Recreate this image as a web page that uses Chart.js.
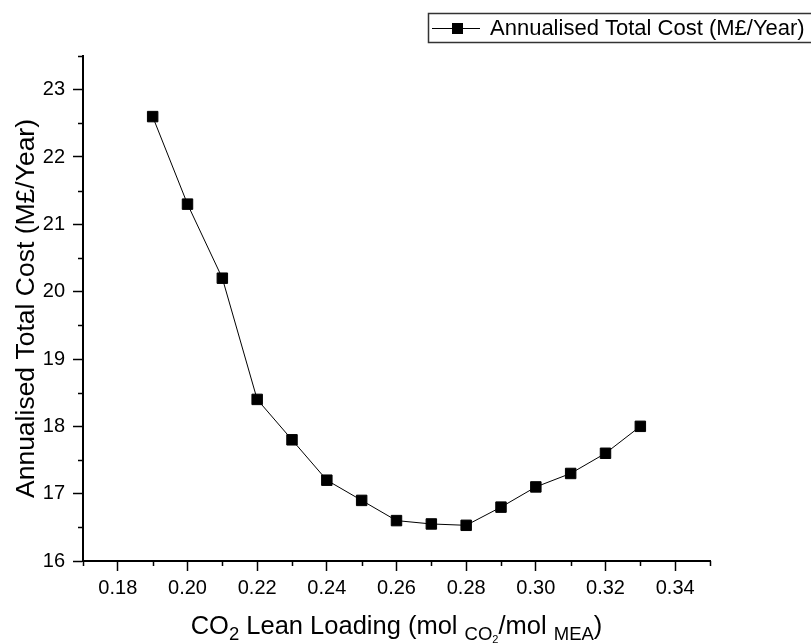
<!DOCTYPE html>
<html>
<head>
<meta charset="utf-8">
<script src="https://cdn.jsdelivr.net/npm/chart.js@4.4.1/dist/chart.umd.min.js"></script>
<style>
    html, body { margin: 0; padding: 0; background: #fff; }
    #chart { display: block; }
</style>
</head>
<body>
<canvas id="chart" width="811" height="644"></canvas>
<script>
const leanLoading = [0.19, 0.20, 0.21, 0.22, 0.23, 0.24, 0.25, 0.26, 0.27, 0.28, 0.29, 0.30, 0.31, 0.32, 0.33];
const annualisedCost = [22.6, 21.3, 20.2, 18.4, 17.8, 17.2, 16.9, 16.6, 16.55, 16.53, 16.8, 17.1, 17.3, 17.6, 18.0];

const xMajorTicks = [0.18, 0.20, 0.22, 0.24, 0.26, 0.28, 0.30, 0.32, 0.34];
const xMinorTicks = [0.17, 0.19, 0.21, 0.23, 0.25, 0.27, 0.29, 0.31, 0.33, 0.35];
const yMajorTicks = [16, 17, 18, 19, 20, 21, 22, 23];
const yMinorTicks = [16.5, 17.5, 18.5, 19.5, 20.5, 21.5, 22.5, 23.5];

const seriesLabel = 'Annualised Total Cost (M£/Year)';
const yTitle = 'Annualised Total Cost (M£/Year)';
// x title has subscripts, so it is kept as pieces: [text, kind]
const xTitleParts = [
    ['CO', 'main'], ['2', 'sub'], [' Lean Loading (mol ', 'main'],
    ['CO', 'sub'], ['2', 'subsub'], ['/mol ', 'main'], ['MEA', 'sub'], [')', 'main']
];

const FONT = '"Liberation Sans", Arial, sans-serif';

// minor ticks, drawn off the chart's own scales
const minorTicksPlugin = {
    id: 'minorTicks',
    afterDraw(chart) {
        const ctx = chart.ctx;
        const x = chart.scales.x;
        const y = chart.scales.y;
        ctx.save();
        ctx.strokeStyle = '#000';
        ctx.lineWidth = 1.5;
        ctx.beginPath();
        xMinorTicks.forEach(v => {
            const px = Math.round(x.getPixelForValue(v)) + 0.5;
            ctx.moveTo(px, y.bottom);
            ctx.lineTo(px, y.bottom + 5);
        });
        yMinorTicks.forEach(v => {
            const py = Math.round(y.getPixelForValue(v)) + 0.5;
            ctx.moveTo(x.left, py);
            ctx.lineTo(x.left - 5, py);
        });
        ctx.stroke();
        ctx.restore();
    }
};

const axisTitlesPlugin = {
    id: 'axisTitles',
    afterDraw(chart) {
        const ctx = chart.ctx;
        const area = chart.chartArea;
        ctx.save();
        ctx.fillStyle = '#000';

        // y title
        ctx.font = `26.5px ${FONT}`;
        ctx.textAlign = 'center';
        ctx.textBaseline = 'alphabetic';
        ctx.translate(34, (area.top + area.bottom) / 2);
        ctx.rotate(-Math.PI / 2);
        ctx.fillText(yTitle, 0, 0);
        ctx.setTransform(1, 0, 0, 1, 0, 0);

        // x title with subscripts
        const styles = {
            main: { size: 25.5, dy: 0 },
            sub: { size: 18.5, dy: 6 },
            subsub: { size: 11, dy: 9 }
        };
        ctx.textAlign = 'left';
        let total = 0;
        xTitleParts.forEach(([t, k]) => {
            ctx.font = `${styles[k].size}px ${FONT}`;
            total += ctx.measureText(t).width;
        });
        let cx = (area.left + area.right) / 2 - total / 2;
        const base = 634;
        xTitleParts.forEach(([t, k]) => {
            ctx.font = `${styles[k].size}px ${FONT}`;
            ctx.fillText(t, cx, base + styles[k].dy);
            cx += ctx.measureText(t).width;
        });
        ctx.restore();
    }
};

const legendBoxPlugin = {
    id: 'legendBox',
    afterDraw(chart) {
        const ctx = chart.ctx;
        ctx.save();
        ctx.strokeStyle = '#333';
        ctx.lineWidth = 1.5;
        ctx.strokeRect(428.5, 13.5, 400, 29);
        // sample line with marker
        ctx.strokeStyle = '#000';
        ctx.lineWidth = 1;
        ctx.beginPath();
        ctx.moveTo(432, 28.5);
        ctx.lineTo(480, 28.5);
        ctx.stroke();
        ctx.fillStyle = '#000';
        ctx.fillRect(452, 23, 11, 11);
        ctx.font = `22px ${FONT}`;
        ctx.textBaseline = 'alphabetic';
        ctx.fillText(seriesLabel, 490, 35);
        ctx.restore();
    }
};

const tickFont = { family: FONT, size: 20 };

new Chart(document.getElementById('chart'), {
    type: 'scatter',
    data: {
        datasets: [{
            label: seriesLabel,
            data: leanLoading.map((x, i) => ({ x: x, y: annualisedCost[i] })),
            showLine: true,
            borderColor: '#000',
            borderWidth: 1,
            pointStyle: 'rect',
            pointRadius: 7.4,
            pointBorderWidth: 1,
            pointBackgroundColor: '#000',
            pointBorderColor: '#000',
            clip: false
        }]
    },
    options: {
        responsive: false,
        animation: false,
        layout: { padding: { top: 56, right: 101, left: 0, bottom: 0 } },
        plugins: {
            legend: { display: false },
            tooltip: { enabled: false }
        },
        scales: {
            x: {
                type: 'linear',
                position: 'bottom',
                min: 0.17,
                max: 0.35,
                afterBuildTicks: s => { s.ticks = xMajorTicks.map(v => ({ value: v })); },
                afterFit: s => { s.height = 83; },
                ticks: {
                    callback: v => v.toFixed(2),
                    font: tickFont,
                    color: '#000',
                    padding: 5,
                    maxRotation: 0,
                    autoSkip: false
                },
                grid: { drawOnChartArea: false, drawTicks: true, tickLength: 10, tickWidth: 1.5, tickColor: '#000' },
                border: { display: true, color: '#000', width: 2 }
            },
            y: {
                type: 'linear',
                position: 'left',
                min: 16,
                max: 23.5,
                afterBuildTicks: s => { s.ticks = yMajorTicks.map(v => ({ value: v })); },
                afterFit: s => { s.width = 83; },
                ticks: {
                    callback: v => String(v),
                    font: tickFont,
                    color: '#000',
                    padding: 8,
                    autoSkip: false
                },
                grid: { drawOnChartArea: false, drawTicks: true, tickLength: 10, tickWidth: 1.5, tickColor: '#000' },
                border: { display: true, color: '#000', width: 2 }
            }
        }
    },
    plugins: [minorTicksPlugin, axisTitlesPlugin, legendBoxPlugin]
});
</script>
</body>
</html>
